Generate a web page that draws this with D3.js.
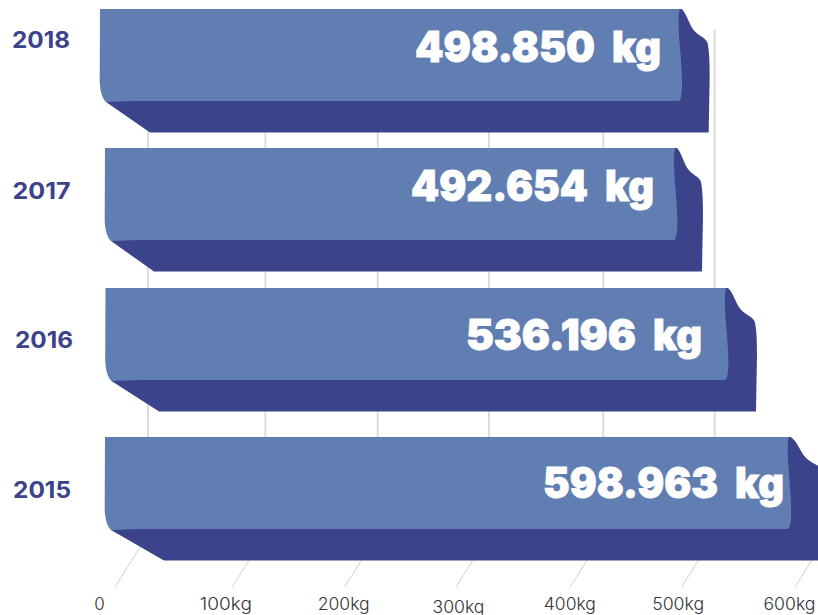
<!DOCTYPE html>
<html><head><meta charset="utf-8">
<style>html,body{margin:0;padding:0;background:#fff}svg{display:block}</style>
<script src="https://cdn.jsdelivr.net/npm/d3@7"></script></head>
<body><svg id="c" width="818" height="615"></svg>
<script>
const years = ["2018","2017","2016","2015"];
const values = [498.850,492.654,536.196,598.963];
const valueNumbers = ["498.850","492.654","536.196","598.963"];
const valueUnit = "kg";
const ticks = [0,100,200,300,400,500,600];
const tickLabels = ["0","100kg","200kg","300kg","400kg","500kg","600kg"];

// hand-drawn offsets of the original artwork (px)
const rowTopNudge = [0,-3.7,-6.3,0];
const barLeft = [100,105,105.5,105];
const barEndNudge = [-4,-1.5,-1,-11];
const depthRight = [29,27,30,36];
const depthLeft = [50,49,53.5,59];
const yearX = [41,41.5,44,42], yearBase = [39,51,60,61];
const labelEnd = [661,654,702,784], labelBase = [53,53,62,61];
const numberStart = [415,411,466,543], numberWidth = [180,177,170,175], unitWidth = 49;
const gridNudge = [0,4,3,1,2,0,0];
const tickTextDx = [-49,-36,-31.5,-30,-32,-37,-39], tickTextDy = [0,0,0,3,0,0,0];

const FRONT="#617EB3", BACK="#3B438B", GRID="#d9d9d9", SLANT="#cfcfcf";
const svg=d3.select("#c");
const x=d3.scaleLinear().domain([0,600]).range([105,801]);
const axisX=d3.scaleLinear().domain([0,600]).range([148,828]);
const y=d3.scalePoint().domain(years).range([9,437]);
const rows=years.map((yr,i)=>({yr,i,v:values[i],T:y(yr)+rowTopNudge[i],L:barLeft[i],R:x(values[i])+barEndNudge[i],dr:depthRight[i],dl:depthLeft[i]}));

svg.append("g").selectAll("line").data(ticks.filter(t=>t<=500)).join("line")
 .attr("x1",(t,i)=>axisX(t)+gridNudge[i]).attr("x2",(t,i)=>axisX(t)+gridNudge[i])
 .attr("y1",30).attr("y2",450).attr("stroke",GRID).attr("stroke-width",1.8);
svg.append("g").selectAll("line").data(ticks).join("line")
 .attr("x1",(t,i)=>axisX(t)+gridNudge[i]-33).attr("y1",587)
 .attr("x2",(t,i)=>axisX(t)+gridNudge[i]-8).attr("y2",547)
 .attr("stroke",SLANT).attr("stroke-width",1);

function backPath(d){const {T,L,R,dr,dl}=d,p=d3.path();
 p.moveTo(R,T);p.lineTo(R+2,T);
 p.bezierCurveTo(R+dr*.25,T+5,R+dr*.32,T+15,R+dr*.48,T+21);
 p.bezierCurveTo(R+dr*.65,T+27,R+dr*.85,T+28,R+dr*.95,T+33);
 p.bezierCurveTo(R+dr*1.02,T+40,R+dr+1,T+52,R+dr+1,T+68);
 p.lineTo(R+dr,T+123.5);p.lineTo(L+dl,T+123.5);p.lineTo(L+6,T+93);p.lineTo(L+6,T+80);p.closePath();
 return p.toString();}
function frontPath(d){const {T,L,R}=d,p=d3.path();
 p.moveTo(L,T);p.lineTo(R,T);
 p.bezierCurveTo(R-3,T+12,R+1,T+40,R+2,T+62);
 p.bezierCurveTo(R+3,T+80,R+2,T+91,R-1,T+92);
 p.lineTo(L+35,T+92);p.lineTo(L+6,T+93);
 p.bezierCurveTo(L+2,T+90,L-.3,T+80,L-.3,T+71);p.closePath();
 return p.toString();}

const bars=svg.append("g").selectAll("g").data(rows).join("g");
bars.append("path").attr("d",backPath).attr("fill",BACK);
bars.append("path").attr("d",frontPath).attr("fill",FRONT);
const labelStyle=s=>s.attr("y",d=>d.T+labelBase[d.i]).attr("lengthAdjust","spacingAndGlyphs")
 .attr("font-family","Inter").attr("font-weight",900).attr("font-size",42).attr("fill","#fff")
 .attr("stroke","#fff").attr("stroke-width",0.9);
bars.append("text").text(d=>valueNumbers[d.i]).attr("x",d=>numberStart[d.i])
 .attr("textLength",d=>numberWidth[d.i]).call(labelStyle);
bars.append("text").text(valueUnit).attr("x",d=>labelEnd[d.i]-unitWidth)
 .attr("textLength",unitWidth).call(labelStyle);

svg.append("g").selectAll("text").data(rows).join("text").text(d=>d.yr)
 .attr("x",d=>yearX[d.i]).attr("y",d=>d.T+yearBase[d.i])
 .attr("text-anchor","middle").attr("font-family","Inter").attr("font-weight",700)
 .attr("font-size",23).attr("textLength",58).attr("lengthAdjust","spacingAndGlyphs").attr("fill",BACK);

const ax=svg.append("g").attr("transform","translate(0,596)")
 .call(d3.axisBottom(axisX).tickValues(ticks).tickSize(0).tickPadding(0).tickFormat((t,i)=>tickLabels[i]));
ax.select(".domain").remove();
ax.selectAll("text").attr("y",null).attr("dy",null)
 .attr("dx",(t,i)=>tickTextDx[i]).attr("transform",(t,i)=>`translate(0,${14+tickTextDy[i]})`)
 .attr("font-family","Inter").attr("font-size",17).attr("font-weight",300).attr("fill","#333")
 .each(function(t,i){ if(i>0) d3.select(this).attr("textLength",52).attr("lengthAdjust","spacingAndGlyphs"); });
</script></body></html>
